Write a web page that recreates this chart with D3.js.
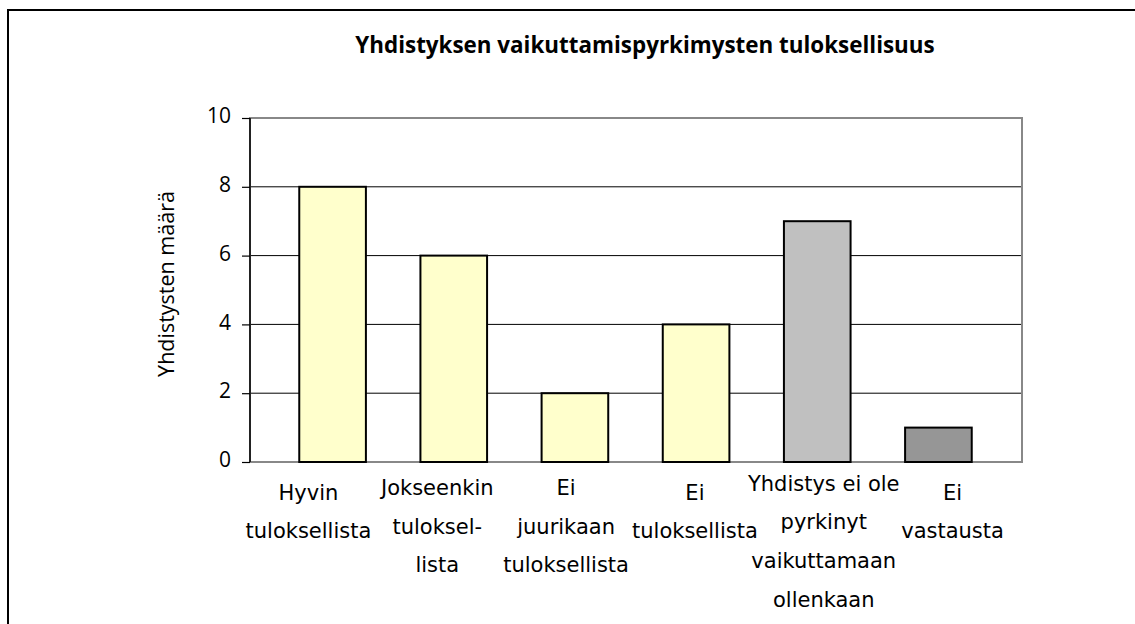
<!DOCTYPE html>
<html><head><meta charset="utf-8">
<script src="https://cdn.jsdelivr.net/npm/d3@7"></script>
<style>body{margin:0;background:#fff}svg{display:block}</style>
</head><body>
<script>
const title = "Yhdistyksen vaikuttamispyrkimysten tuloksellisuus";
const yTitle = "Yhdistysten määrä";
const categories = [
  ["Hyvin","tuloksellista"],
  ["Jokseenkin","tuloksel-","lista"],
  ["Ei","juurikaan","tuloksellista"],
  ["Ei","tuloksellista"],
  ["Yhdistys ei ole","pyrkinyt","vaikuttamaan","ollenkaan"],
  ["Ei","vastausta"]
];
const values = [8, 6, 2, 4, 7, 1];
const colors = ["#FFFFCC","#FFFFCC","#FFFFCC","#FFFFCC","#C0C0C0","#969696"];
const yTicks = [0, 2, 4, 6, 8, 10];

const W = 1135, H = 624;
const svg = d3.select("body").append("svg").attr("width", W).attr("height", H);

// outer frame
svg.append("rect").attr("x", 8).attr("y", 10).attr("width", W + 20).attr("height", H + 20)
  .attr("fill", "none").attr("stroke", "#000").attr("stroke-width", 2);

const plot = {left: 250, top: 118, right: 1022, bottom: 462};
const y = d3.scaleLinear().domain([0, 10]).range([plot.bottom, plot.top]);
const ids = d3.range(values.length);
const xBar = d3.scaleBand().domain(ids).range([272, 999]).paddingInner(0.45).paddingOuter(0.225);
const xLab = d3.scaleBand().domain(ids).range([244, 1017]);

// gridlines
svg.append("g").selectAll("line").data(yTicks.filter(t => t > 0 && t < 10)).join("line")
  .attr("x1", plot.left).attr("x2", plot.right)
  .attr("y1", d => y(d)).attr("y2", d => y(d))
  .attr("stroke", "#000").attr("stroke-width", 1);

// plot border (gray)
svg.append("rect").attr("x", plot.left).attr("y", plot.top)
  .attr("width", plot.right - plot.left).attr("height", plot.bottom - plot.top)
  .attr("fill", "none").attr("stroke", "#888").attr("stroke-width", 2);

// bars
svg.append("g").selectAll("rect").data(values).join("rect")
  .attr("x", (d, i) => xBar(i)).attr("width", xBar.bandwidth())
  .attr("y", d => y(d)).attr("height", d => y(0) - y(d))
  .attr("fill", (d, i) => colors[i]).attr("stroke", "#000").attr("stroke-width", 2);

// y axis
const yAxis = d3.axisLeft(y).tickValues(yTicks).tickSize(8).tickPadding(11).tickFormat(d3.format("d"));
const ga = svg.append("g").attr("transform", `translate(${plot.left},0)`).call(yAxis);
ga.select(".domain").attr("stroke", "#000").attr("stroke-width", 1.5).attr("d", `M0,${plot.top}V${plot.bottom}`);
ga.selectAll(".tick line").attr("stroke", "#000").attr("stroke-width", 1.2);
ga.selectAll(".tick text").attr("font-family", "'Open Sans', sans-serif").attr("font-size", 21)
  .attr("fill", "#000").attr("dy", "0.22em");

// y title
svg.append("text").attr("transform", `translate(174,${(plot.top+plot.bottom)/2 - 6}) rotate(-90)`)
  .attr("text-anchor", "middle").attr("font-family", "'Open Sans', sans-serif")
  .attr("font-size", 21.5).text(yTitle);

// title
svg.append("text").attr("x", 645).attr("y", 53).attr("text-anchor", "middle")
  .attr("font-family", "'Open Sans', sans-serif").attr("font-weight", "bold")
  .attr("font-size", 22.4).text(title);

// category labels
const lineH = 38.7;
const g = svg.append("g").attr("font-family", "'DejaVu Sans', sans-serif").attr("font-size", 21).attr("fill", "#000");
categories.forEach((lines, i) => {
  const base = 504 - (lines.length - 1) * 4.5;
  const t = g.append("text").attr("text-anchor", "middle");
  lines.forEach((ln, j) => {
    t.append("tspan").attr("x", xLab(i) + xLab.bandwidth() / 2).attr("y", base + j * lineH).text(ln);
  });
});
</script>
</body></html>
